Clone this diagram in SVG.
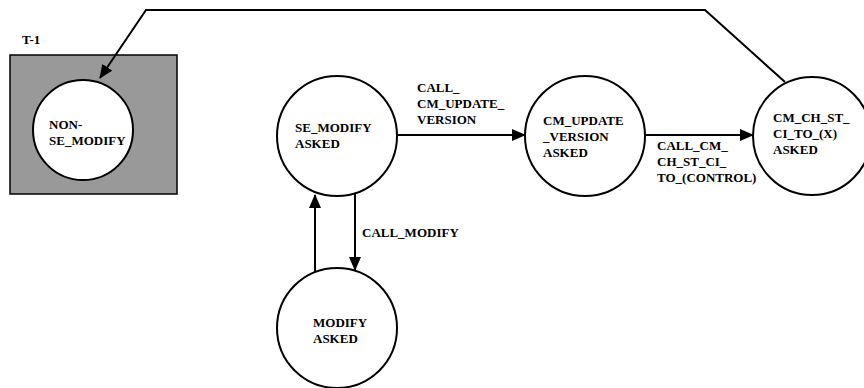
<svg xmlns="http://www.w3.org/2000/svg" width="864" height="388" viewBox="0 0 864 388">
<style>
text{font-family:"Liberation Serif","Times New Roman",serif;font-weight:bold;font-size:13px;fill:#000}
.st{fill:#fff;stroke:#000;stroke-width:2}
.ln{fill:none;stroke:#000;stroke-width:2}
</style>
<defs>
<marker id="ah" markerWidth="14" markerHeight="12" refX="13" refY="6" orient="auto" markerUnits="userSpaceOnUse">
<path d="M0,0 L14,6 L0,12 Z" fill="#000"/>
</marker>
</defs>
<rect width="864" height="388" fill="#fff"/>
<g id="T1">
<text x="22" y="44">T-1</text>
<rect x="10" y="55" width="167" height="139" fill="#999" stroke="#000" stroke-width="1.5"/>
</g>
<g id="non_se_modify">
<circle class="st" cx="83" cy="130" r="50"/>
<text x="49" y="129">NON-</text>
<text x="49" y="145">SE_MODIFY</text>
</g>
<g id="se_modify_asked">
<circle class="st" cx="337" cy="136" r="60"/>
<text x="295" y="132">SE_MODIFY</text>
<text x="295" y="148">ASKED</text>
</g>
<g id="cm_update_version_asked">
<circle class="st" cx="585" cy="136" r="60"/>
<text x="543" y="125">CM_UPDATE</text>
<text x="543" y="141">_VERSION</text>
<text x="543" y="157">ASKED</text>
</g>
<g id="cm_ch_st_ci_to_x_asked">
<circle class="st" cx="812" cy="136" r="59"/>
<text x="773" y="122">CM_CH_ST_</text>
<text x="773" y="138">CI_TO_(X)</text>
<text x="773" y="154">ASKED</text>
</g>
<g id="modify_asked">
<circle class="st" cx="337" cy="328" r="60"/>
<text x="313" y="327">MODIFY</text>
<text x="313" y="343">ASKED</text>
</g>
<g id="connectors">
<line class="ln" x1="397" y1="135" x2="525" y2="135" marker-end="url(#ah)"/>
<text x="417" y="92">CALL_</text>
<text x="417" y="108">CM_UPDATE_</text>
<text x="417" y="124">VERSION</text>
<line class="ln" x1="645" y1="135" x2="753" y2="135" marker-end="url(#ah)"/>
<text x="657" y="150">CALL_CM_</text>
<text x="657" y="166">CH_ST_CI_</text>
<text x="657" y="182">TO_(CONTROL)</text>
<line class="ln" x1="355" y1="193" x2="355" y2="270" marker-end="url(#ah)"/>
<text x="362" y="237">CALL_MODIFY</text>
<line class="ln" x1="315" y1="272" x2="315" y2="195" marker-end="url(#ah)"/>
<polyline class="ln" points="785,82 705,10 146,10 100,78" marker-end="url(#ah)"/>
</g>
</svg>
